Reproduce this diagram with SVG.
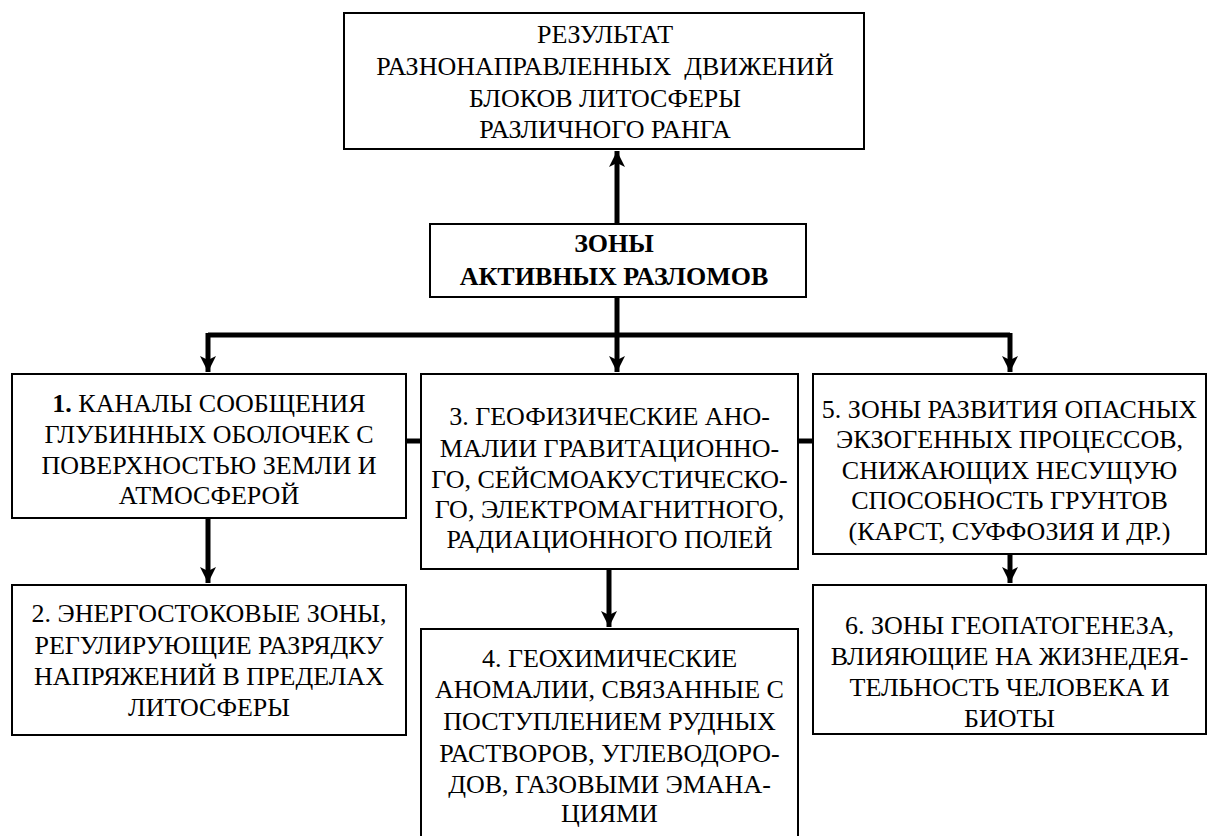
<svg xmlns="http://www.w3.org/2000/svg" width="1208" height="836" viewBox="0 0 1208 836">
<style>
.box{fill:#fff;stroke:#000;stroke-width:2}
.t{font-family:"Liberation Serif","Times New Roman",serif;font-size:26px;fill:#000;text-anchor:middle}
.b{font-weight:bold}
.c{fill:none;stroke:#000;stroke-width:5}
</style>
<defs>
<marker id="ah" markerUnits="userSpaceOnUse" markerWidth="18" markerHeight="18" viewBox="0 0 18 18" refX="16" refY="9" orient="auto">
<path d="M0,1 L16,9 L0,17 L4,9 Z" fill="#000"/>
</marker>
</defs>
<rect width="1208" height="836" fill="#fff"/>
<g id="connectors">
<path class="c" d="M617,224 L617,151" marker-end="url(#ah)"/>
<path class="c" d="M617,297 L617,335"/>
<path class="c" d="M208,335 L1010,335"/>
<path class="c" d="M208,333 L208,372" marker-end="url(#ah)"/>
<path class="c" d="M617,333 L617,372" marker-end="url(#ah)"/>
<path class="c" d="M1010,333 L1010,372" marker-end="url(#ah)"/>
<path class="c" d="M208,518 L208,583" marker-end="url(#ah)"/>
<path class="c" d="M609,569 L609,627" marker-end="url(#ah)"/>
<path class="c" d="M1010,554 L1010,583" marker-end="url(#ah)"/>
<path class="c" d="M406,441 L421,441"/>
<path class="c" d="M798,441 L813,441"/>
</g>
<g id="result">
<rect class="box" x="344" y="13" width="520" height="136"/>
<text class="t" x="605" y="43">РЕЗУЛЬТАТ</text>
<text class="t" x="605" y="75" style="white-space:pre">РАЗНОНАПРАВЛЕННЫХ  ДВИЖЕНИЙ</text>
<text class="t" x="605" y="107">БЛОКОВ ЛИТОСФЕРЫ</text>
<text class="t" x="605" y="138">РАЗЛИЧНОГО РАНГА</text>
</g>
<g id="zones">
<rect class="box" x="430" y="224" width="376" height="73"/>
<text class="t b" x="614" y="252">ЗОНЫ</text>
<text class="t b" x="614" y="285">АКТИВНЫХ РАЗЛОМОВ</text>
</g>
<g id="n1">
<rect class="box" x="12" y="374" width="394" height="144"/>
<text class="t" x="209" y="412"><tspan class="b">1.</tspan> КАНАЛЫ СООБЩЕНИЯ</text>
<text class="t" x="209" y="443">ГЛУБИННЫХ ОБОЛОЧЕК С</text>
<text class="t" x="209" y="474">ПОВЕРХНОСТЬЮ ЗЕМЛИ И</text>
<text class="t" x="209" y="504">АТМОСФЕРОЙ</text>
</g>
<g id="n2">
<rect class="box" x="12" y="585" width="394" height="150"/>
<text class="t" x="209" y="622">2. ЭНЕРГОСТОКОВЫЕ ЗОНЫ,</text>
<text class="t" x="209" y="654">РЕГУЛИРУЮЩИЕ РАЗРЯДКУ</text>
<text class="t" x="209" y="685">НАПРЯЖЕНИЙ В ПРЕДЕЛАХ</text>
<text class="t" x="209" y="716">ЛИТОСФЕРЫ</text>
</g>
<g id="n3">
<rect class="box" x="421" y="374" width="377" height="195"/>
<text class="t" x="609.5" y="425">3. ГЕОФИЗИЧЕСКИЕ АНО-</text>
<text class="t" x="609.5" y="457">МАЛИИ ГРАВИТАЦИОННО-</text>
<text class="t" x="609.5" y="488">ГО, СЕЙСМОАКУСТИЧЕСКО-</text>
<text class="t" x="609.5" y="518">ГО, ЭЛЕКТРОМАГНИТНОГО,</text>
<text class="t" x="609.5" y="548">РАДИАЦИОННОГО ПОЛЕЙ</text>
</g>
<g id="n4">
<rect class="box" x="421" y="629" width="377" height="215"/>
<text class="t" x="609.5" y="667">4. ГЕОХИМИЧЕСКИЕ</text>
<text class="t" x="609.5" y="698">АНОМАЛИИ, СВЯЗАННЫЕ С</text>
<text class="t" x="609.5" y="730">ПОСТУПЛЕНИЕМ РУДНЫХ</text>
<text class="t" x="609.5" y="762">РАСТВОРОВ, УГЛЕВОДОРО-</text>
<text class="t" x="609.5" y="793">ДОВ, ГАЗОВЫМИ ЭМАНА-</text>
<text class="t" x="609.5" y="822">ЦИЯМИ</text>
</g>
<g id="n5">
<rect class="box" x="813" y="374" width="393" height="180"/>
<text class="t" x="1009.5" y="418">5. ЗОНЫ РАЗВИТИЯ ОПАСНЫХ</text>
<text class="t" x="1009.5" y="448">ЭКЗОГЕННЫХ ПРОЦЕССОВ,</text>
<text class="t" x="1009.5" y="479">СНИЖАЮЩИХ НЕСУЩУЮ</text>
<text class="t" x="1009.5" y="509">СПОСОБНОСТЬ ГРУНТОВ</text>
<text class="t" x="1009.5" y="540">(КАРСТ, СУФФОЗИЯ И ДР.)</text>
</g>
<g id="n6">
<rect class="box" x="813" y="585" width="393" height="149"/>
<text class="t" x="1009.5" y="634">6. ЗОНЫ ГЕОПАТОГЕНЕЗА,</text>
<text class="t" x="1009.5" y="665">ВЛИЯЮЩИЕ НА ЖИЗНЕДЕЯ-</text>
<text class="t" x="1009.5" y="696">ТЕЛЬНОСТЬ ЧЕЛОВЕКА И</text>
<text class="t" x="1009.5" y="727">БИОТЫ</text>
</g>
</svg>
